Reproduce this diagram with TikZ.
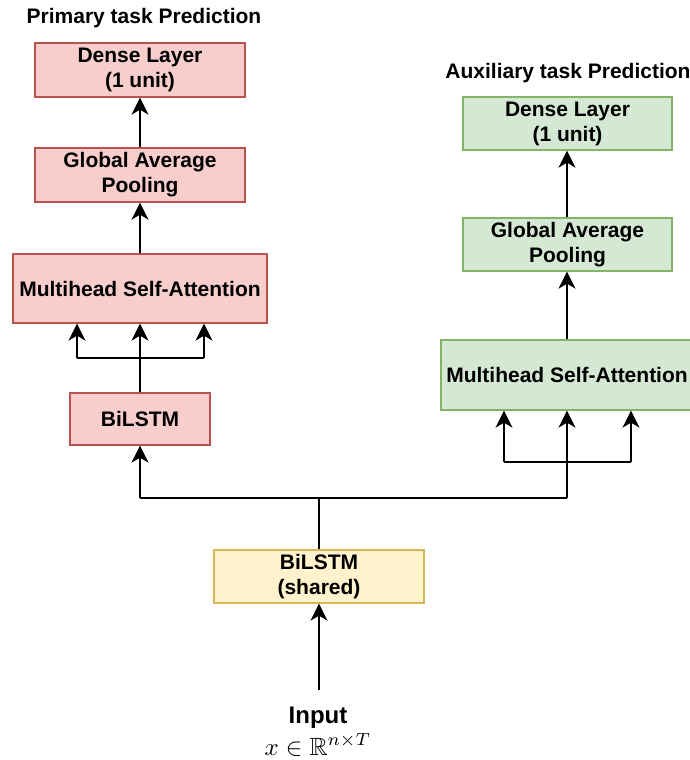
\documentclass[tikz,border=0pt]{standalone}
\usepackage{amssymb}
\usepackage{fontspec}
\setmainfont{Liberation Sans}
\usetikzlibrary{arrows.meta}
\definecolor{redfill}{HTML}{F8CECC}
\definecolor{redline}{HTML}{B85450}
\definecolor{greenfill}{HTML}{D5E8D4}
\definecolor{greenline}{HTML}{82B366}
\definecolor{yelfill}{HTML}{FFF2CC}
\definecolor{yelline}{HTML}{D6B656}
\begin{document}
\begin{tikzpicture}[x=1pt,y=-1pt,
  boxbase/.style={draw, line width=1.3pt, inner sep=0pt, align=center,
    font=\fontsize{21}{25}\selectfont\bfseries},
  redbox/.style={boxbase, fill=redfill, draw=redline},
  greenbox/.style={boxbase, fill=greenfill, draw=greenline},
  yelbox/.style={boxbase, fill=yelfill, draw=yelline},
  titletext/.style={inner sep=0pt, font=\fontsize{21}{25}\selectfont\bfseries},
  conn/.style={line width=1.8pt, black},
  arr/.style={conn, -{Stealth[length=17pt,width=17pt,inset=5pt]}}
]
\useasboundingbox (0,0) rectangle (690,760);

% primary branch
\node[titletext] (ptitle) at (144,18) {Primary task Prediction};
\node[redbox, minimum width=210pt, minimum height=54pt] (pdense) at (140,70) {Dense Layer\\(1 unit)};
\node[redbox, minimum width=210pt, minimum height=54pt] (pgap) at (140,175) {Global Average\\Pooling};
\node[redbox, minimum width=254pt, minimum height=69pt] (pmha) at (140,288.5) {Multihead Self-Attention};
\node[redbox, minimum width=140pt, minimum height=52pt] (pbil) at (140,419) {BiLSTM};

% auxiliary branch
\node[titletext] (atitle) at (568,73) {Auxiliary task Prediction};
\node[greenbox, minimum width=209pt, minimum height=53pt] (adense) at (567.5,123.5) {Dense Layer\\(1 unit)};
\node[greenbox, minimum width=209pt, minimum height=53pt] (agap) at (567.5,244.5) {Global Average\\Pooling};
\node[greenbox, minimum width=252pt, minimum height=70pt] (amha) at (567,375) {Multihead Self-Attention};

% shared
\node[yelbox, minimum width=210pt, minimum height=53pt] (shared) at (319,576.5) {BiLSTM\\(shared)};
\node[inner sep=0pt, font=\fontsize{24}{28}\selectfont\bfseries] (input) at (318,718) {Input};
\node[inner sep=0pt, scale=2.5] (math) at (318,745) {$x\in\mathbb{R}^{n\times T}$};
\coordinate (instart) at (319,690);

% coordinates for connectors
\coordinate (split) at (319,498);
\coordinate (pleftj) at (140,498);
\coordinate (arightj) at (567,498);
\coordinate (pbar) at (140,358);
\coordinate (abar) at (567,462);

% connectors primary
\draw[arr] (pgap.north) -- (pdense.south);
\draw[arr] (pmha.north) -- (pgap.south);
\draw[arr] (pbil.north) -- (pmha.south);
\draw[conn] ([xshift=-63pt]pbar) -- ([xshift=64pt]pbar);
\draw[arr] ([xshift=-63pt]pbar) -- ([xshift=-63pt]pmha.south);
\draw[arr] ([xshift=64pt]pbar) -- ([xshift=64pt]pmha.south);

% connectors auxiliary
\draw[arr] (agap.north -| arightj) -- (adense.south -| arightj);
\draw[arr] (amha.north -| arightj) -- (agap.south -| arightj);
\draw[arr] (arightj) -- (amha.south -| arightj);
\draw[conn] ([xshift=-63pt]abar) -- ([xshift=64pt]abar);
\draw[arr] ([xshift=-63pt]abar) -- ([xshift=-63pt]abar |- amha.south);
\draw[arr] ([xshift=64pt]abar) -- ([xshift=64pt]abar |- amha.south);

% shared connectors
\draw[conn] (shared.north) -- (split);
\draw[conn] (pleftj) -- (arightj);
\draw[arr] (pleftj) -- (pbil.south);
\draw[arr] (instart) -- (shared.south);
\end{tikzpicture}
\end{document}
